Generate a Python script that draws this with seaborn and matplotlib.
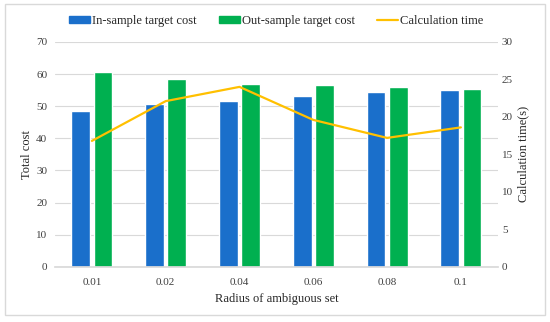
import numpy as np
import pandas as pd
import matplotlib
matplotlib.use("Agg")
import matplotlib.pyplot as plt
import seaborn as sns
from matplotlib.patches import Patch
from matplotlib.lines import Line2D

# values
radius = ["0.01", "0.02", "0.04", "0.06", "0.08", "0.1"]
in_sample_cost = [48.6, 50.7, 51.6, 53.2, 54.5, 54.9]
out_sample_cost = [60.7, 58.6, 56.9, 56.6, 56.1, 55.4]
calc_time = [16.8, 22.1, 24.0, 19.6, 17.2, 18.6]

blue = "#1A6FCB"
green = "#00B050"
gold = "#FFC000"

sns.set_theme(style="white")
plt.rcParams["font.family"] = ["Liberation Serif", "DejaVu Serif"]

df = pd.DataFrame({
    "radius": radius * 2,
    "cost": in_sample_cost + out_sample_cost,
    "kind": ["In-sample target cost"] * 6 + ["Out-sample target cost"] * 6,
})

fig = plt.figure(figsize=(5.5, 3.22), dpi=100)
ax = fig.add_axes([0.1, 0.171, 0.805, 0.699])

sns.barplot(data=df, x="radius", y="cost", hue="kind", order=radius,
            palette=[blue, green], width=0.6, gap=0.15, saturation=1,
            ax=ax, legend=False)

ax.set_ylim(0, 70)
ax.set_yticks(range(0, 71, 10))
ax.set_xlim(-0.5, len(radius) - 0.5)
ax.grid(axis="y", color="#D9D9D9", linewidth=0.8)
ax.set_axisbelow(True)
for s in ["top", "left", "right"]:
    ax.spines[s].set_visible(False)
ax.spines["bottom"].set_color("#D9D9D9")
ax.tick_params(axis="x", length=0, labelsize=8, colors="#404040", pad=8)
ax.tick_params(axis="y", length=0, labelsize=8, colors="#404040", pad=5.5)
ax.set_xlabel("Radius of ambiguous set", fontsize=9, labelpad=4)
ax.set_ylabel("Total cost", fontsize=9, labelpad=2)

ax2 = ax.twinx()
sns.lineplot(x=np.arange(len(radius)), y=calc_time, color=gold,
             linewidth=1.6, ax=ax2)
ax2.set_ylim(0, 30)
ax2.set_yticks(range(0, 31, 5))
for s in ax2.spines.values():
    s.set_visible(False)
ax2.tick_params(axis="y", length=0, labelsize=8, colors="#404040", pad=3)
ax2.set_ylabel("Calculation time(s)", fontsize=9, labelpad=3)

handles = [
    Patch(color=blue, label="In-sample target cost"),
    Patch(color=green, label="Out-sample target cost"),
    Line2D([0], [0], color=gold, linewidth=1.6, label="Calculation time"),
]
fig.legend(handles=handles, loc="center", bbox_to_anchor=(0.502, 0.935),
           ncol=3, frameon=False, fontsize=9, handlelength=1.7,
           handleheight=0.4, handletextpad=0.15, columnspacing=1.75)

fig.patches.append(plt.Rectangle((0.009, 0.022), 0.982, 0.966, transform=fig.transFigure,
                                 fill=False, edgecolor="#D9D9D9", linewidth=1))

fig.savefig("out.png", dpi=100)
